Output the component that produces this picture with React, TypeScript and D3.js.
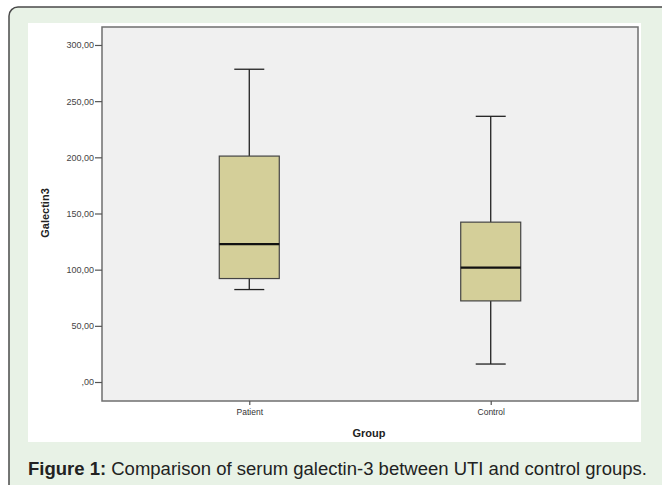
import React, { useEffect, useRef } from 'react';
import * as d3 from 'd3';

// categories and five-number summaries
const groups = ['Patient', 'Control'];
const mins = [82.3, 16.0];
const q1s = [92.1, 72.2];
const medians = [122.7, 101.9];
const q3s = [201.1, 142.3];
const maxs = [278.4, 236.5];
const yTicks = [0, 50, 100, 150, 200, 250, 300];

const W = 662;
const H = 485;

const App: React.FC = () => {
  const ref = useRef<SVGSVGElement>(null);

  useEffect(() => {
    if (!ref.current) return;
    const svg = d3.select(ref.current);
    svg.selectAll('*').remove();

    // fond vert et bordure arrondie
    svg.append('rect')
      .attr('x', 9).attr('y', 7)
      .attr('width', 700).attr('height', 490)
      .attr('rx', 9)
      .attr('fill', '#e8f2e6')
      .attr('stroke', '#4a4a4a')
      .attr('stroke-width', 1.5);

    // panneau blanc
    svg.append('rect')
      .attr('x', 28).attr('y', 23)
      .attr('width', 613).attr('height', 419)
      .attr('fill', '#ffffff');

    const plot = { left: 102, top: 27, right: 638, bottom: 401 };

    const y = d3.scaleLinear()
      .domain([-16.9, 316])
      .range([plot.bottom, plot.top]);

    const x = d3.scalePoint<string>()
      .domain(groups)
      .range([plot.left, plot.right])
      .padding(0.61);

    // zone du graphique
    svg.append('rect')
      .attr('x', plot.left).attr('y', plot.top)
      .attr('width', plot.right - plot.left)
      .attr('height', plot.bottom - plot.top)
      .attr('fill', '#f0f0f0')
      .attr('stroke', '#6f6f6f')
      .attr('stroke-width', 1.5);

    // axe Y
    const fmt = (v: number) => (v === 0 ? ',00' : d3.format('.2f')(v).replace('.', ','));
    const yAxis = svg.append('g')
      .attr('transform', `translate(${plot.left},0)`)
      .call(d3.axisLeft(y).tickValues(yTicks).tickSize(7).tickPadding(1).tickFormat(d => fmt(+d)));
    yAxis.select('.domain').remove();
    yAxis.selectAll('line').attr('stroke', '#555').attr('stroke-width', 1.2);
    yAxis.selectAll('text')
      .attr('fill', '#444')
      .style('font-family', 'Arial, "Liberation Sans", sans-serif')
      .style('font-size', '9px');

    // axe X
    const xAxis = svg.append('g')
      .attr('transform', `translate(0,${plot.bottom})`)
      .call(d3.axisBottom(x).tickSize(4).tickPadding(4));
    xAxis.select('.domain').remove();
    xAxis.selectAll('line').attr('stroke', '#555').attr('stroke-width', 1.2);
    xAxis.selectAll('text')
      .attr('fill', '#333')
      .style('font-family', 'Arial, "Liberation Sans", sans-serif')
      .style('font-size', '8.5px');

    // titres des axes
    svg.append('text')
      .attr('x', (plot.left + plot.right) / 2 - 1)
      .attr('y', 437)
      .attr('text-anchor', 'middle')
      .attr('fill', '#222')
      .style('font-family', 'Arial, "Liberation Sans", sans-serif')
      .style('font-size', '11px')
      .style('font-weight', 'bold')
      .text('Group');

    svg.append('text')
      .attr('transform', `translate(49,213) rotate(-90)`)
      .attr('text-anchor', 'middle')
      .attr('fill', '#222')
      .style('font-family', 'Arial, "Liberation Sans", sans-serif')
      .style('font-size', '11px')
      .style('font-weight', 'bold')
      .text('Galectin3');

    // boîtes à moustaches
    const boxW = 60;
    const capW = 30;
    groups.forEach((g, i) => {
      const cx = x(g)!;
      const grp = svg.append('g');
      grp.append('line')
        .attr('x1', cx).attr('x2', cx)
        .attr('y1', y(maxs[i])).attr('y2', y(q3s[i]))
        .attr('stroke', '#222').attr('stroke-width', 1.3);
      grp.append('line')
        .attr('x1', cx).attr('x2', cx)
        .attr('y1', y(q1s[i])).attr('y2', y(mins[i]))
        .attr('stroke', '#222').attr('stroke-width', 1.3);
      [maxs[i], mins[i]].forEach(v => {
        grp.append('line')
          .attr('x1', cx - capW / 2).attr('x2', cx + capW / 2)
          .attr('y1', y(v)).attr('y2', y(v))
          .attr('stroke', '#222').attr('stroke-width', 1.3);
      });
      grp.append('rect')
        .attr('x', cx - boxW / 2)
        .attr('y', y(q3s[i]))
        .attr('width', boxW)
        .attr('height', y(q1s[i]) - y(q3s[i]))
        .attr('fill', '#d4cf99')
        .attr('stroke', '#444')
        .attr('stroke-width', 1.2);
      grp.append('line')
        .attr('x1', cx - boxW / 2).attr('x2', cx + boxW / 2)
        .attr('y1', y(medians[i])).attr('y2', y(medians[i]))
        .attr('stroke', '#111').attr('stroke-width', 2.2);
    });

    // légende de la figure
    const cap = svg.append('text')
      .attr('x', 28)
      .attr('y', 475)
      .attr('textLength', 619)
      .attr('lengthAdjust', 'spacingAndGlyphs')
      .attr('fill', '#222')
      .style('font-family', 'Arial, "Liberation Sans", sans-serif')
      .style('font-size', '17.5px');
    cap.append('tspan').style('font-weight', 'bold').text('Figure 1:');
    cap.append('tspan').text(' Comparison of serum galectin-3 between UTI and control groups.');
  }, []);

  return (
    <div style={{ position: 'absolute', left: 0, top: 0, width: W, height: H, overflow: 'hidden', background: '#fff' }}>
      <svg ref={ref} width={W} height={H}></svg>
    </div>
  );
};

export default App;
